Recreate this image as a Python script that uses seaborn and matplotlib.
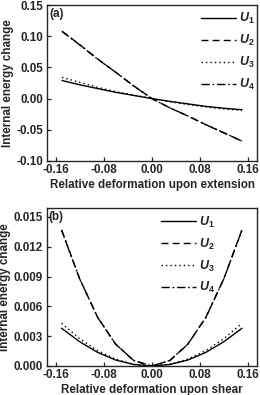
import numpy as np
import pandas as pd
import matplotlib
matplotlib.use("Agg")
import matplotlib.pyplot as plt
import seaborn as sns

# ---- data ----
strain = [-0.15, -0.12, -0.09, -0.06, -0.03, 0.0, 0.03, 0.06, 0.09, 0.12, 0.15]
series_names = ["U1", "U2", "U3", "U4"]
series_labels = [r"$U_1$", r"$U_2$", r"$U_3$", r"$U_4$"]

ext_U1 = [0.029, 0.022, 0.016, 0.010, 0.005, 0.0, -0.0045, -0.0085, -0.0125, -0.0155, -0.0178]
ext_U2 = [0.108, 0.086, 0.063, 0.042, 0.020, 0.0, -0.015, -0.028, -0.042, -0.055, -0.068]
ext_U3 = [0.034, 0.026, 0.018, 0.011, 0.0055, 0.0, -0.005, -0.0095, -0.0135, -0.0165, -0.019]
ext_U4 = [0.1075, 0.0858, 0.0628, 0.0418, 0.0199, 0.0, -0.0149, -0.0279, -0.0419, -0.0549, -0.0681]

sh_U1 = [0.0038, 0.00245, 0.00137, 0.0006, 0.00015, 0.0, 0.00015, 0.0006, 0.00137, 0.00245, 0.0038]
sh_U2 = [0.0137, 0.0088, 0.0049, 0.0022, 0.00055, 0.0, 0.00055, 0.0022, 0.0049, 0.0088, 0.0137]
sh_U3 = [0.0043, 0.00275, 0.00155, 0.00069, 0.00017, 0.0, 0.00017, 0.00069, 0.00155, 0.00275, 0.0043]
sh_U4 = [0.01368, 0.00879, 0.00489, 0.00219, 0.00055, 0.0, 0.00055, 0.00219, 0.00489, 0.00879, 0.01368]

xticks = [-0.16, -0.08, 0.00, 0.08, 0.16]
yticks_a = [-0.10, -0.05, 0.00, 0.05, 0.10, 0.15]
yticks_b = [0.000, 0.003, 0.006, 0.009, 0.012, 0.015]

linestyles = ["-", (0, (5, 3)), (0, (1, 2.2)), (0, (6, 2, 1.2, 2))]

sns.set_theme(style="ticks")
plt.rcParams["font.family"] = ["Liberation Sans", "DejaVu Sans"]
plt.rcParams["font.weight"] = "bold"
plt.rcParams["mathtext.fontset"] = "custom"
plt.rcParams["mathtext.it"] = "Liberation Sans:bold:italic"
plt.rcParams["mathtext.rm"] = "Liberation Sans:bold"
plt.rcParams["mathtext.bf"] = "Liberation Sans:bold"

fig = plt.figure(figsize=(2.6, 3.95), dpi=100)
ax_a = fig.add_axes([47 / 260, 1 - 161 / 395, 210 / 260, 156 / 395])
ax_b = fig.add_axes([46.5 / 260, 1 - 366 / 395, 210.5 / 260, 158 / 395])

fs = 8.4

def draw(ax, data, yticks, ylim, fmt, xlabel, tag, leg_anchor):
    df = pd.DataFrame({"x": strain})
    for name, vals in zip(series_names, data):
        df[name] = vals
    for name, lab, ls in zip(series_names, series_labels, linestyles):
        sns.lineplot(data=df, x="x", y=name, ax=ax, color="black",
                     linewidth=1.0, linestyle=ls, label=lab)
    ax.set_xlim(-0.175, 0.175)
    ax.set_ylim(*ylim)
    ax.set_xticks(xticks)
    ax.set_xticklabels([f"{t:.2f}" for t in xticks], fontsize=fs, fontweight="bold")
    ax.set_yticks(yticks)
    ax.set_yticklabels([fmt.format(t) for t in yticks], fontsize=fs, fontweight="bold")
    ax.tick_params(direction="in", length=3, width=0.9, pad=2.5)
    for s in ax.spines.values():
        s.set_linewidth(1.0)
        s.set_visible(True)
    ax.set_xlabel(xlabel, fontsize=fs, fontweight="bold", labelpad=2)
    ax.set_ylabel("Internal energy change", fontsize=fs, fontweight="bold", labelpad=2)
    ax.text(0.01, 0.94, tag, transform=ax.transAxes, fontsize=fs,
            fontweight="bold", va="center", ha="left")
    leg = ax.legend(loc="upper left", bbox_to_anchor=leg_anchor, frameon=False,
                    fontsize=9, handlelength=2.8, handletextpad=0.3,
                    labelspacing=0.55, borderpad=0.2, borderaxespad=0)
    return leg

draw(ax_a, [ext_U1, ext_U2, ext_U3, ext_U4], yticks_a, (-0.10, 0.15), "{:.2f}",
     "Relative deformation upon extension", "(a)", (0.72, 0.975))
draw(ax_b, [sh_U1, sh_U2, sh_U3, sh_U4], yticks_b, (0.0, 0.0159), "{:.3f}",
     "Relative deformation upon shear", "(b)", (0.53, 0.975))

fig.savefig("out.png", dpi=100)
